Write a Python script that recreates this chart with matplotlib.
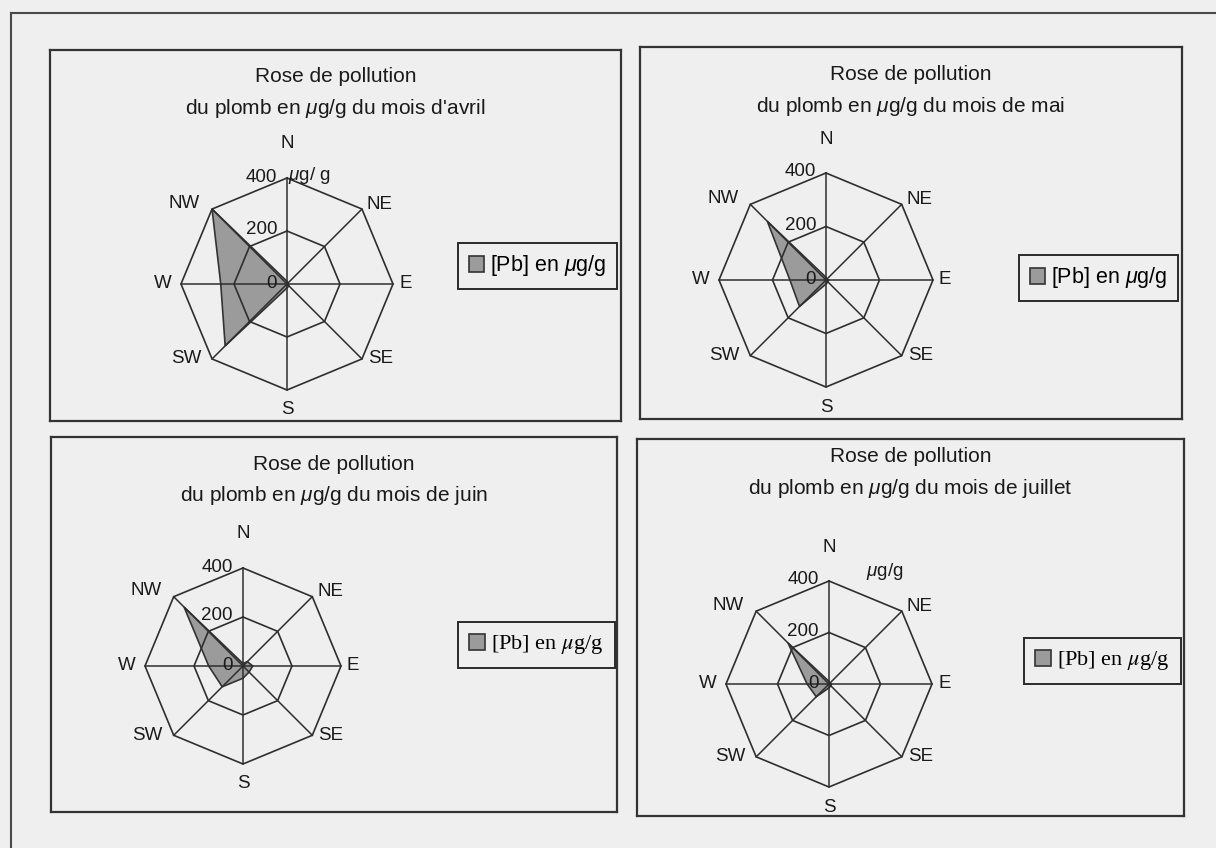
import numpy as np
import matplotlib.pyplot as plt
from matplotlib.lines import Line2D

plt.rcParams['font.family'] = ['Liberation Sans', 'DejaVu Sans']
plt.rcParams['mathtext.fontset'] = 'custom'
plt.rcParams['mathtext.rm'] = 'Liberation Sans'
plt.rcParams['mathtext.it'] = 'Liberation Sans:italic'

# data read from the scanned roses (values in ug/g)
directions = ['N', 'NE', 'E', 'SE', 'S', 'SW', 'W', 'NW']
grid_levels = [200, 400]
tick_values = [0, 200, 400]
months = ["d'avril", 'de mai', 'de juin', 'de juillet']
pb_avril = [10, 5, 5, 10, 15, 330, 250, 400]
pb_mai = [10, 5, 10, 10, 15, 140, 135, 310]
pb_juin = [10, 25, 40, 35, 50, 120, 140, 340]
pb_juillet = [10, 5, 10, 10, 15, 70, 85, 225]
series = [pb_avril, pb_mai, pb_juin, pb_juillet]
legend_label = r'[Pb] en $\mu$g/g'

W, H = 1216, 848
BG = '#efefef'
LINE = '#2e2e2e'
PX = 0.72  # points per pixel at dpi 100

# layout of each panel in pixels: frame box, rose centre, radius, title offset,
# legend (left x, centre y), legend font, unit label
panels = [
    dict(box=(50, 50, 621, 421), c=(287, 284), r=106, t=27, leg=(458, 266),
         serif=False, unit='avril'),
    dict(box=(640, 47, 1182, 419), c=(826, 280), r=107, t=28, leg=(1019, 278),
         serif=False, unit=None),
    dict(box=(51, 437, 617, 812), c=(243, 666), r=98, t=28, leg=(458, 645),
         serif=True, unit=None),
    dict(box=(637, 439, 1184, 816), c=(829, 684), r=103, t=18, leg=(1024, 661),
         serif=True, unit='juillet'),
]

angles = np.deg2rad(90 - 45 * np.arange(len(directions)))

# label placement per direction: offset in px, ha, va
dir_fmt = {
    'N': ((0, 34), 'center', 'center'),
    'NE': ((5, 5), 'left', 'center'),
    'E': ((6, 0), 'left', 'center'),
    'SE': ((6, 0), 'left', 'center'),
    'S': ((0, -20), 'center', 'center'),
    'SW': ((-11, 0), 'right', 'center'),
    'W': ((-9, 0), 'right', 'center'),
    'NW': ((-12, 6), 'right', 'center'),
}

fig = plt.figure(figsize=(W / 100, H / 100), dpi=100, facecolor=BG)

# outer frame of the scanned page
fig.add_artist(Line2D([11 / W, 1], [1 - 13 / H, 1 - 13 / H], color='#4a4a4a', lw=1.5))
fig.add_artist(Line2D([11 / W, 11 / W], [0, 1 - 13 / H], color='#4a4a4a', lw=1.5))

for p, vals, month in zip(panels, series, months):
    x0, y0, x1, y1 = p['box']
    cx, cy = p['c']
    s = p['r'] / 400.0
    ax = fig.add_axes([x0 / W, 1 - y1 / H, (x1 - x0) / W, (y1 - y0) / H])
    ax.set_facecolor(BG)
    ax.set_xlim((x0 - cx) / s, (x1 - cx) / s)
    ax.set_ylim((cy - y1) / s, (cy - y0) / s)
    ax.set_xticks([])
    ax.set_yticks([])
    for sp in ax.spines.values():
        sp.set_color('#333333')
        sp.set_linewidth(1.6)

    # octagonal grid and spokes
    for lev in grid_levels:
        gx = np.append(lev * np.cos(angles), lev * np.cos(angles[0]))
        gy = np.append(lev * np.sin(angles), lev * np.sin(angles[0]))
        ax.plot(gx, gy, color=LINE, lw=1.2, zorder=2)
    for a in angles:
        ax.plot([0, 400 * np.cos(a)], [0, 400 * np.sin(a)], color=LINE, lw=1.1, zorder=2)

    # pollution polygon
    v = np.array(vals, dtype=float)
    poly = ax.fill(v * np.cos(angles), v * np.sin(angles), facecolor='#9b9b9b',
                   edgecolor='#333333', lw=1.2, zorder=1, label=legend_label)[0]

    # direction labels
    for d, a in zip(directions, angles):
        off, ha, va = dir_fmt[d]
        ax.annotate(d, (400 * np.cos(a), 400 * np.sin(a)),
                    xytext=(off[0] * PX, off[1] * PX), textcoords='offset points',
                    ha=ha, va=va, fontsize=13.5, color='#1a1a1a')

    # radial tick labels
    for tv in tick_values:
        ax.annotate(str(tv), (0, tv), xytext=(-10 * PX, 1 * PX),
                    textcoords='offset points', ha='right', va='center',
                    fontsize=13.5, color='#1a1a1a', zorder=4)
    if p['unit'] == 'avril':
        ax.annotate(r'$\mu$g/ g', (0, 400), xytext=(1 * PX, 3 * PX),
                    textcoords='offset points', ha='left', va='center',
                    fontsize=13.5, color='#1a1a1a')
    elif p['unit'] == 'juillet':
        ax.annotate(r'$\mu$g/g', (0, 400), xytext=(56 * PX, 10 * PX),
                    textcoords='offset points', ha='center', va='center',
                    fontsize=13.5, color='#1a1a1a')

    # two-line title
    hgt = y1 - y0
    ax.text(0.5, 1 - p['t'] / hgt, 'Rose de pollution', transform=ax.transAxes,
            ha='center', va='center', fontsize=15, color='#1a1a1a')
    ax.text(0.5, 1 - (p['t'] + 31) / hgt,
            r'du plomb en $\mu$g/g du mois ' + month, transform=ax.transAxes,
            ha='center', va='center', fontsize=15, color='#1a1a1a')

    lx, ly = p['leg']
    leg = ax.legend(handles=[poly], labels=[legend_label], loc='center left',
                    bbox_to_anchor=(lx / W, 1 - ly / H), bbox_transform=fig.transFigure,
                    fancybox=False, edgecolor='#2a2a2a', facecolor=BG, framealpha=1,
                    handlelength=0.7, handleheight=0.7, handletextpad=0.3,
                    borderpad=0.5, borderaxespad=0,
                    prop={'family': ['Liberation Serif'] if p['serif'] else ['Liberation Sans'],
                          'size': 16 if p['serif'] else 15.5})
    leg.get_frame().set_linewidth(1.4)
    if p['serif']:
        for t in leg.get_texts():
            t.set_math_fontfamily('stix')

fig.savefig('out.png', dpi=100, facecolor=BG)
